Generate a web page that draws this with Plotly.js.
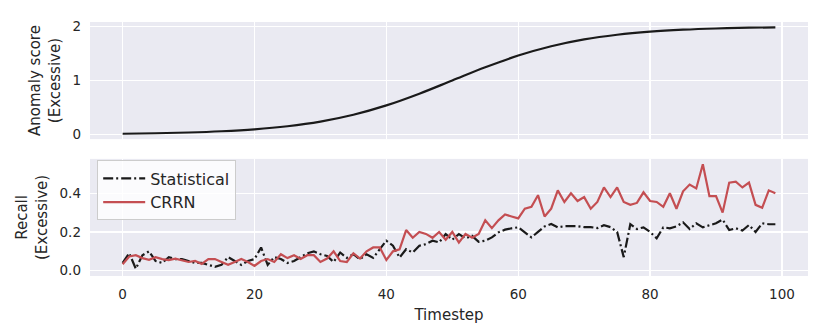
<!DOCTYPE html>
<html>
<head>
<meta charset="utf-8">
<script src="https://cdn.plot.ly/plotly-3.0.1.min.js"></script>
<style>
  body { margin: 0; background: #fff; }
  #chart { width: 831px; height: 335px; }
</style>
</head>
<body>
<div id="chart"></div>
<script>
// anomaly score (top panel), read every 5 steps
const scoreSteps = [0, 5, 10, 15, 20, 25, 30, 35, 40, 45, 50, 55, 60, 65, 70, 75, 80, 85, 90, 95, 99];
const scoreVals = [0.013, 0.022, 0.036, 0.059, 0.095, 0.152, 0.238, 0.365, 0.538, 0.755, 1.0,
                   1.245, 1.462, 1.635, 1.762, 1.848, 1.905, 1.941, 1.964, 1.978, 1.985];

// recall (bottom panel), one value per timestep 0..99
const steps = [0,1,2,3,4,5,6,7,8,9,10,11,12,13,14,15,16,17,18,19,20,21,22,23,24,25,26,27,28,29,
  30,31,32,33,34,35,36,37,38,39,40,41,42,43,44,45,46,47,48,49,50,51,52,53,54,55,56,57,58,59,
  60,61,62,63,64,65,66,67,68,69,70,71,72,73,74,75,76,77,78,79,80,81,82,83,84,85,86,87,88,89,
  90,91,92,93,94,95,96,97,98,99];

const statistical = [0.04, 0.09, 0.01, 0.08, 0.10, 0.05, 0.04, 0.07, 0.06, 0.06,
  0.05, 0.04, 0.04, 0.03, 0.02, 0.03, 0.07, 0.05, 0.03, 0.05,
  0.06, 0.12, 0.03, 0.07, 0.06, 0.04, 0.05, 0.07, 0.09, 0.10,
  0.085, 0.076, 0.045, 0.094, 0.066, 0.085, 0.059, 0.085, 0.066, 0.111,
  0.155, 0.129, 0.068, 0.111, 0.094, 0.129, 0.137, 0.155, 0.146, 0.189,
  0.16, 0.189, 0.167, 0.18, 0.149, 0.155, 0.172, 0.198, 0.212, 0.219,
  0.224, 0.198, 0.172, 0.20, 0.229, 0.241, 0.224, 0.23, 0.23, 0.23,
  0.225, 0.225, 0.22, 0.235, 0.225, 0.20, 0.07, 0.24, 0.215, 0.224,
  0.20, 0.167, 0.224, 0.219, 0.229, 0.25, 0.215, 0.245, 0.224, 0.236,
  0.245, 0.264, 0.21, 0.219, 0.207, 0.236, 0.20, 0.245, 0.24, 0.24];

const crrn = [0.033, 0.073, 0.08, 0.065, 0.056, 0.07, 0.06, 0.055, 0.062, 0.055,
  0.045, 0.05, 0.035, 0.06, 0.06, 0.045, 0.03, 0.045, 0.06, 0.045,
  0.025, 0.05, 0.06, 0.045, 0.085, 0.065, 0.08, 0.06, 0.08, 0.08,
  0.045, 0.0625, 0.10, 0.05, 0.045, 0.09, 0.0625, 0.10, 0.12, 0.12,
  0.055, 0.10, 0.11, 0.21, 0.17, 0.20, 0.19, 0.17, 0.20, 0.16,
  0.20, 0.145, 0.19, 0.17, 0.19, 0.26, 0.22, 0.26, 0.29, 0.28,
  0.27, 0.32, 0.33, 0.39, 0.28, 0.32, 0.415, 0.355, 0.40, 0.36,
  0.38, 0.32, 0.355, 0.43, 0.38, 0.43, 0.355, 0.34, 0.35, 0.405,
  0.36, 0.355, 0.33, 0.40, 0.32, 0.41, 0.445, 0.425, 0.55, 0.385,
  0.385, 0.30, 0.455, 0.46, 0.43, 0.455, 0.34, 0.325, 0.415, 0.40];

const xTicks = [0, 20, 40, 60, 80, 100];

const txt = '#262626';
const font = {family: 'DejaVu Sans', size: 13.5, color: txt};
const titleFont = {family: 'DejaVu Sans', size: 15, color: txt};

const traces = [
  {
    x: scoreSteps, y: scoreVals, xaxis: 'x2', yaxis: 'y2',
    mode: 'lines', line: {color: '#1a1a1a', width: 2.2, shape: 'spline'},
    showlegend: false, hoverinfo: 'skip'
  },
  {
    x: steps, y: statistical, name: 'Statistical',
    mode: 'lines', line: {color: '#1a1a1a', width: 2.2, dash: '10px,3px,2px,3px'}
  },
  {
    x: steps, y: crrn, name: 'CRRN',
    mode: 'lines', line: {color: '#c44e52', width: 2.2}
  }
];

const axisBase = {
  range: [-4.95, 103.95], tickvals: xTicks, showgrid: true, gridcolor: '#ffffff', gridwidth: 1.3,
  zeroline: false, showline: false, ticks: '', tickfont: font
};

const layout = {
  width: 831, height: 335,
  margin: {l: 90, r: 23, t: 22, b: 59},
  paper_bgcolor: '#ffffff', plot_bgcolor: '#eaeaf2',
  font: font,
  showlegend: true,
  legend: {
    x: 0.01, y: 0.455, xanchor: 'left', yanchor: 'top',
    bgcolor: 'rgba(255,255,255,0.8)', bordercolor: '#cccccc', borderwidth: 1,
    font: {family: 'DejaVu Sans', size: 16, color: txt},
    itemwidth: 42, tracegroupgap: 0
  },
  xaxis: Object.assign({}, axisBase, {
    anchor: 'y', domain: [0, 1], ticklabelstandoff: 8,
    title: {text: 'Timestep', font: titleFont, standoff: 8}
  }),
  yaxis: {
    domain: [0, 0.461], anchor: 'x', range: [-0.0275, 0.5775],
    tickvals: [0, 0.2, 0.4], ticktext: ['0.0', '0.2', '0.4'], ticklabelstandoff: 8,
    showgrid: true, gridcolor: '#ffffff', gridwidth: 1.3, zeroline: false, ticks: '', tickfont: font,
    title: {text: 'Recall<br>(Excessive)', font: titleFont, standoff: 8}
  },
  xaxis2: Object.assign({}, axisBase, {
    anchor: 'y2', domain: [0, 1], showticklabels: false
  }),
  yaxis2: {
    domain: [0.539, 1], anchor: 'x2', range: [-0.086, 2.084],
    tickvals: [0, 1, 2], ticklabelstandoff: 8,
    showgrid: true, gridcolor: '#ffffff', gridwidth: 1.3, zeroline: false, ticks: '', tickfont: font,
    title: {text: 'Anomaly score<br>(Excessive)', font: titleFont, standoff: 8}
  }
};

Plotly.newPlot('chart', traces, layout, {displayModeBar: false, staticPlot: true});
</script>
</body>
</html>
